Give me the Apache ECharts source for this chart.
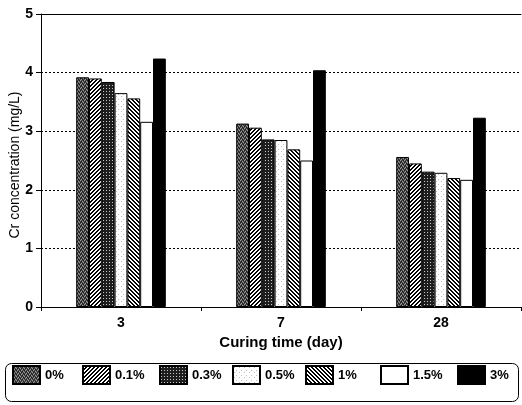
<!DOCTYPE html>
<html><head><meta charset="utf-8">
<script src="https://cdn.jsdelivr.net/npm/echarts@6/dist/echarts.min.js"></script>
<style>html,body{margin:0;padding:0;background:#fff}#c{width:522px;height:405px}</style>
</head><body><div id="c"></div>
<script>
const categories = ['3', '7', '28'];
const seriesNames = ['0%', '0.1%', '0.3%', '0.5%', '1%', '1.5%', '3%'];
const s0 = [3.92, 3.13, 2.56];
const s01 = [3.90, 3.06, 2.45];
const s03 = [3.84, 2.86, 2.31];
const s05 = [3.65, 2.85, 2.29];
const s1 = [3.56, 2.69, 2.20];
const s15 = [3.16, 2.50, 2.17];
const s3 = [4.24, 4.04, 3.23];
const yTicks = [0, 1, 2, 3, 4, 5];
const yTitle = 'Cr concentration (mg/L)';
const xTitle = 'Curing time (day)';

function mk(w, h, draw) {
  const c = document.createElement('canvas');
  c.width = w; c.height = h;
  const g = c.getContext('2d');
  draw(g, w, h);
  return { image: c, repeat: 'repeat' };
}
const pat0 = mk(4, 4, (g) => {
  g.fillStyle = '#4a4a4a'; g.fillRect(0, 0, 4, 4);
  g.fillStyle = '#9a9a9a'; g.fillRect(0, 0, 1, 1); g.fillRect(2, 1, 1, 1); g.fillRect(1, 3, 1, 1); g.fillRect(3, 2, 1, 1);
  g.fillStyle = '#1a1a1a'; g.fillRect(1, 1, 1, 1); g.fillRect(3, 0, 1, 1); g.fillRect(0, 2, 1, 1); g.fillRect(2, 3, 1, 1);
});
const pat01 = mk(4, 4, (g) => {
  g.fillStyle = '#fff'; g.fillRect(0, 0, 4, 4);
  g.fillStyle = '#000';
  for (let i = 0; i < 4; i++) { g.fillRect(3 - i, i, 1, 1); g.fillRect((4 - i) % 4, i, 1, 1); }
});
const pat03 = mk(3, 3, (g) => {
  g.fillStyle = '#1e1e1e'; g.fillRect(0, 0, 3, 3);
  g.fillStyle = '#c8c8c8'; g.fillRect(1, 1, 1, 1);
});
const pat05 = mk(5, 5, (g) => {
  g.fillStyle = '#fff'; g.fillRect(0, 0, 5, 5);
  g.fillStyle = '#bdbdbd'; g.fillRect(1, 1, 1, 1); g.fillRect(3, 4, 1, 1);
});
const pat1 = mk(4, 4, (g) => {
  g.fillStyle = '#fff'; g.fillRect(0, 0, 4, 4);
  g.fillStyle = '#000';
  for (let i = 0; i < 4; i++) { g.fillRect(i, i, 1, 1); g.fillRect((i + 1) % 4, i, 1, 1); }
});
const colors = [pat0, pat01, pat03, pat05, pat1, '#ffffff', '#000000'];
const dataArr = [s0, s01, s03, s05, s1, s15, s3];
const legendLeft = [12, 82, 159, 232, 305, 380, 457];

const chart = echarts.init(document.getElementById('c'), null, { renderer: 'canvas' });
const font = 'Liberation Sans, Arial, sans-serif';
chart.setOption({
  animation: false,
  grid: { left: 41, right: 1, top: 14, bottom: 98, outerBoundsMode: 'none', containLabel: false },
  xAxis: [{
    type: 'category', data: categories,
    axisLine: { lineStyle: { color: '#000', width: 1 } },
    axisTick: { show: true, length: 4, lineStyle: { color: '#000' } },
    axisLabel: { color: '#000', fontFamily: font, fontSize: 14, fontWeight: 'bold', margin: 9 },
    name: xTitle, nameLocation: 'middle', nameGap: 27,
    nameTextStyle: { color: '#000', fontFamily: font, fontSize: 15, fontWeight: 'bold' }
  }, {
    type: 'category', data: categories, position: 'top',
    axisLine: { lineStyle: { color: '#000', width: 1 } },
    axisTick: { show: false }, axisLabel: { show: false }
  }],
  yAxis: {
    type: 'value', min: yTicks[0], max: yTicks[yTicks.length - 1], interval: 1,
    axisLine: { show: true, lineStyle: { color: '#000', width: 1 } },
    axisTick: { show: true, length: 5, lineStyle: { color: '#000' } },
    axisLabel: { color: '#000', fontFamily: font, fontSize: 14, fontWeight: 'bold', margin: 8 },
    splitLine: { show: true, lineStyle: { color: '#000', type: [2, 2], width: 1 } }
  },
  legend: seriesNames.map((n, i) => ({
    data: [n], left: legendLeft[i], top: 365, itemWidth: 27, itemHeight: 18, itemGap: 0,
    icon: 'rect',
    textStyle: { color: '#000', fontFamily: font, fontSize: 13, fontWeight: 'bold', padding: [0, 0, 0, 0] },
    padding: 0, selectedMode: false
  })),
  graphic: [{
    type: 'rect', left: 3, top: 361, shape: { width: 513, height: 38, r: 6 },
    style: { fill: 'none', stroke: '#000', lineWidth: 1 }, silent: true
  }, {
    type: 'text', x: 15, y: 165, rotation: Math.PI / 2, silent: true,
    style: { text: yTitle, fill: '#000', font: '14px ' + font, align: 'center', verticalAlign: 'middle' }
  }],
  series: seriesNames.map((n, i) => ({
    name: n, type: 'bar', data: dataArr[i], barGap: 0, barCategoryGap: '44%',
    itemStyle: { color: colors[i], borderColor: '#000', borderWidth: 1 }
  }))
});
</script></body></html>
